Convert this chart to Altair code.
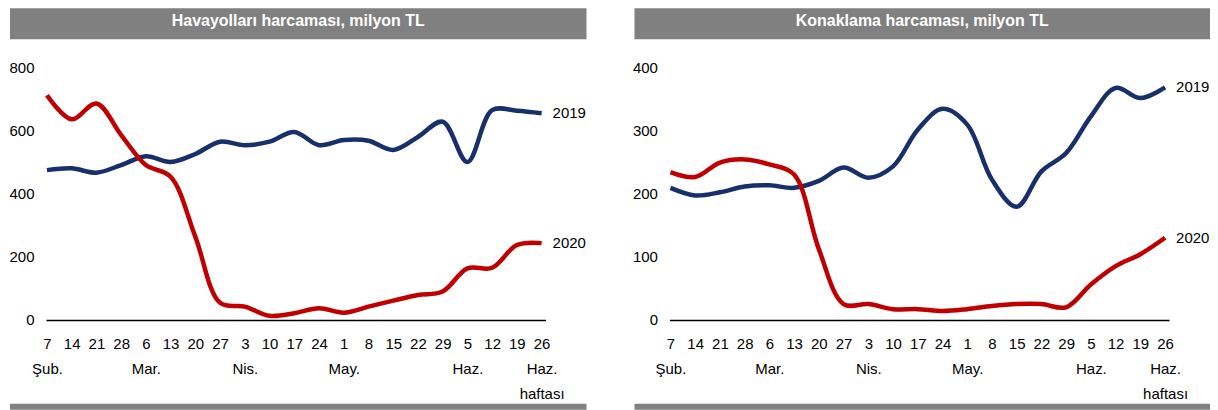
import json
import altair as alt
import pandas as pd

# ---------------- data ----------------
days = [7, 14, 21, 28, 6, 13, 20, 27, 3, 10, 17, 24, 1, 8, 15, 22, 29, 5, 12, 19, 26]
months = ["Şub.", "", "", "", "Mar.", "", "", "", "Nis.", "", "", "", "May.", "", "", "", "", "Haz.", "", "", "Haz."]
last_suffix = "haftası"
series_names = ["2019", "2020"]

air_2019 = [474, 480, 466, 490, 518, 500, 525, 564, 553, 564, 595, 553, 569, 567, 538, 579, 627, 500, 664, 662, 654]
air_2020 = [711, 635, 685, 585, 490, 453, 263, 54, 42, 13, 21, 37, 23, 42, 61, 79, 90, 163, 165, 237, 243]

acc_2019 = [209, 197, 202, 211, 213, 209, 220, 241, 225, 243, 301, 334, 309, 222, 179, 235, 264, 322, 367, 351, 368]
acc_2020 = [234, 226, 249, 254, 246, 230, 112, 25, 25, 17, 17, 14, 17, 22, 25, 25, 20, 56, 85, 104, 130]

titles = ["Havayolları harcaması, milyon TL", "Konaklama harcaması, milyon TL"]
air_ticks = [0, 200, 400, 600, 800]
acc_ticks = [0, 100, 200, 300, 400]

# ---------------- style ----------------
FONT = "Liberation Sans"
NAVY = "#17306b"
RED = "#c00000"
GREY = "#808080"
N = len(days)

label_arrays = []
for i, (d, m) in enumerate(zip(days, months)):
    arr = [str(d)]
    if m:
        arr.append(m)
    if i == N - 1:
        arr.append(last_suffix)
    label_arrays.append(arr)
label_expr = json.dumps(label_arrays, ensure_ascii=False) + "[datum.value]"

PLOT_W = 500
PLOT_H = 253


def panel(title, v19, v20, ticks, bar_left, bar_right):
    df = pd.DataFrame({
        "idx": list(range(N)) * 2,
        "value": v19 + v20,
        "series": [series_names[0]] * N + [series_names[1]] * N,
    })
    xs = alt.Scale(domain=[-0.04, 20.16], nice=False, zero=False)
    ys = alt.Scale(domain=[0, ticks[-1]], nice=False)
    x = alt.X("idx:Q", scale=xs, axis=alt.Axis(
        values=list(range(N)), labelExpr=label_expr, grid=False, ticks=False,
        domain=True, domainColor="black", domainWidth=1.5,
        labelFont=FONT, labelFontSize=15, labelColor="black",
        labelPadding=17, labelLineHeight=25, labelOverlap=False,
        labelFlush=False, labelBound=False, title=None))
    y = alt.Y("value:Q", scale=ys, axis=alt.Axis(
        values=ticks, grid=False, ticks=False, domain=False,
        labelFont=FONT, labelFontSize=15, labelColor="black",
        labelPadding=12, labelOverlap=False, title=None))
    color = alt.Color("series:N", scale=alt.Scale(domain=series_names, range=[NAVY, RED]), legend=None)

    lines = alt.Chart(df).mark_line(strokeWidth=4.5, interpolate="catmull-rom").encode(
        x=x, y=y, color=color, detail="series:N")
    ends = alt.Chart(df).transform_filter(alt.datum.idx == N - 1).mark_text(
        align="left", baseline="middle", dx=11, font=FONT, fontSize=15, color="black").encode(
        x=x, y=y, text="series:N")

    tdf = pd.DataFrame({"t": [title]})
    top_bar = alt.Chart(tdf).mark_rect(color=GREY).encode(
        x=alt.value(bar_left), x2=alt.value(bar_right), y=alt.value(-59), y2=alt.value(-28))
    title_text = alt.Chart(tdf).mark_text(
        color="white", font=FONT, fontWeight="bold", fontSize=16, align="center", baseline="middle").encode(
        x=alt.value((bar_left + bar_right) / 2), y=alt.value(-46), text="t:N")
    bottom_bar = alt.Chart(tdf).mark_rect(color=GREY).encode(
        x=alt.value(bar_left), x2=alt.value(bar_right), y=alt.value(337), y2=alt.value(343))

    return alt.layer(top_bar, title_text, bottom_bar, lines, ends).properties(width=PLOT_W, height=PLOT_H)


left = panel(titles[0], air_2019, air_2020, air_ticks, -36, 541)
right = panel(titles[1], acc_2019, acc_2020, acc_ticks, -35, 541)

chart = alt.hconcat(left, right, spacing=45).properties(
    padding={"left": 0, "top": 0, "right": 0, "bottom": 0}
).configure_view(stroke=None).configure_axisX(labelOverlap=False)

chart.save("out.html", embed_options={"renderer": "svg", "actions": False})
